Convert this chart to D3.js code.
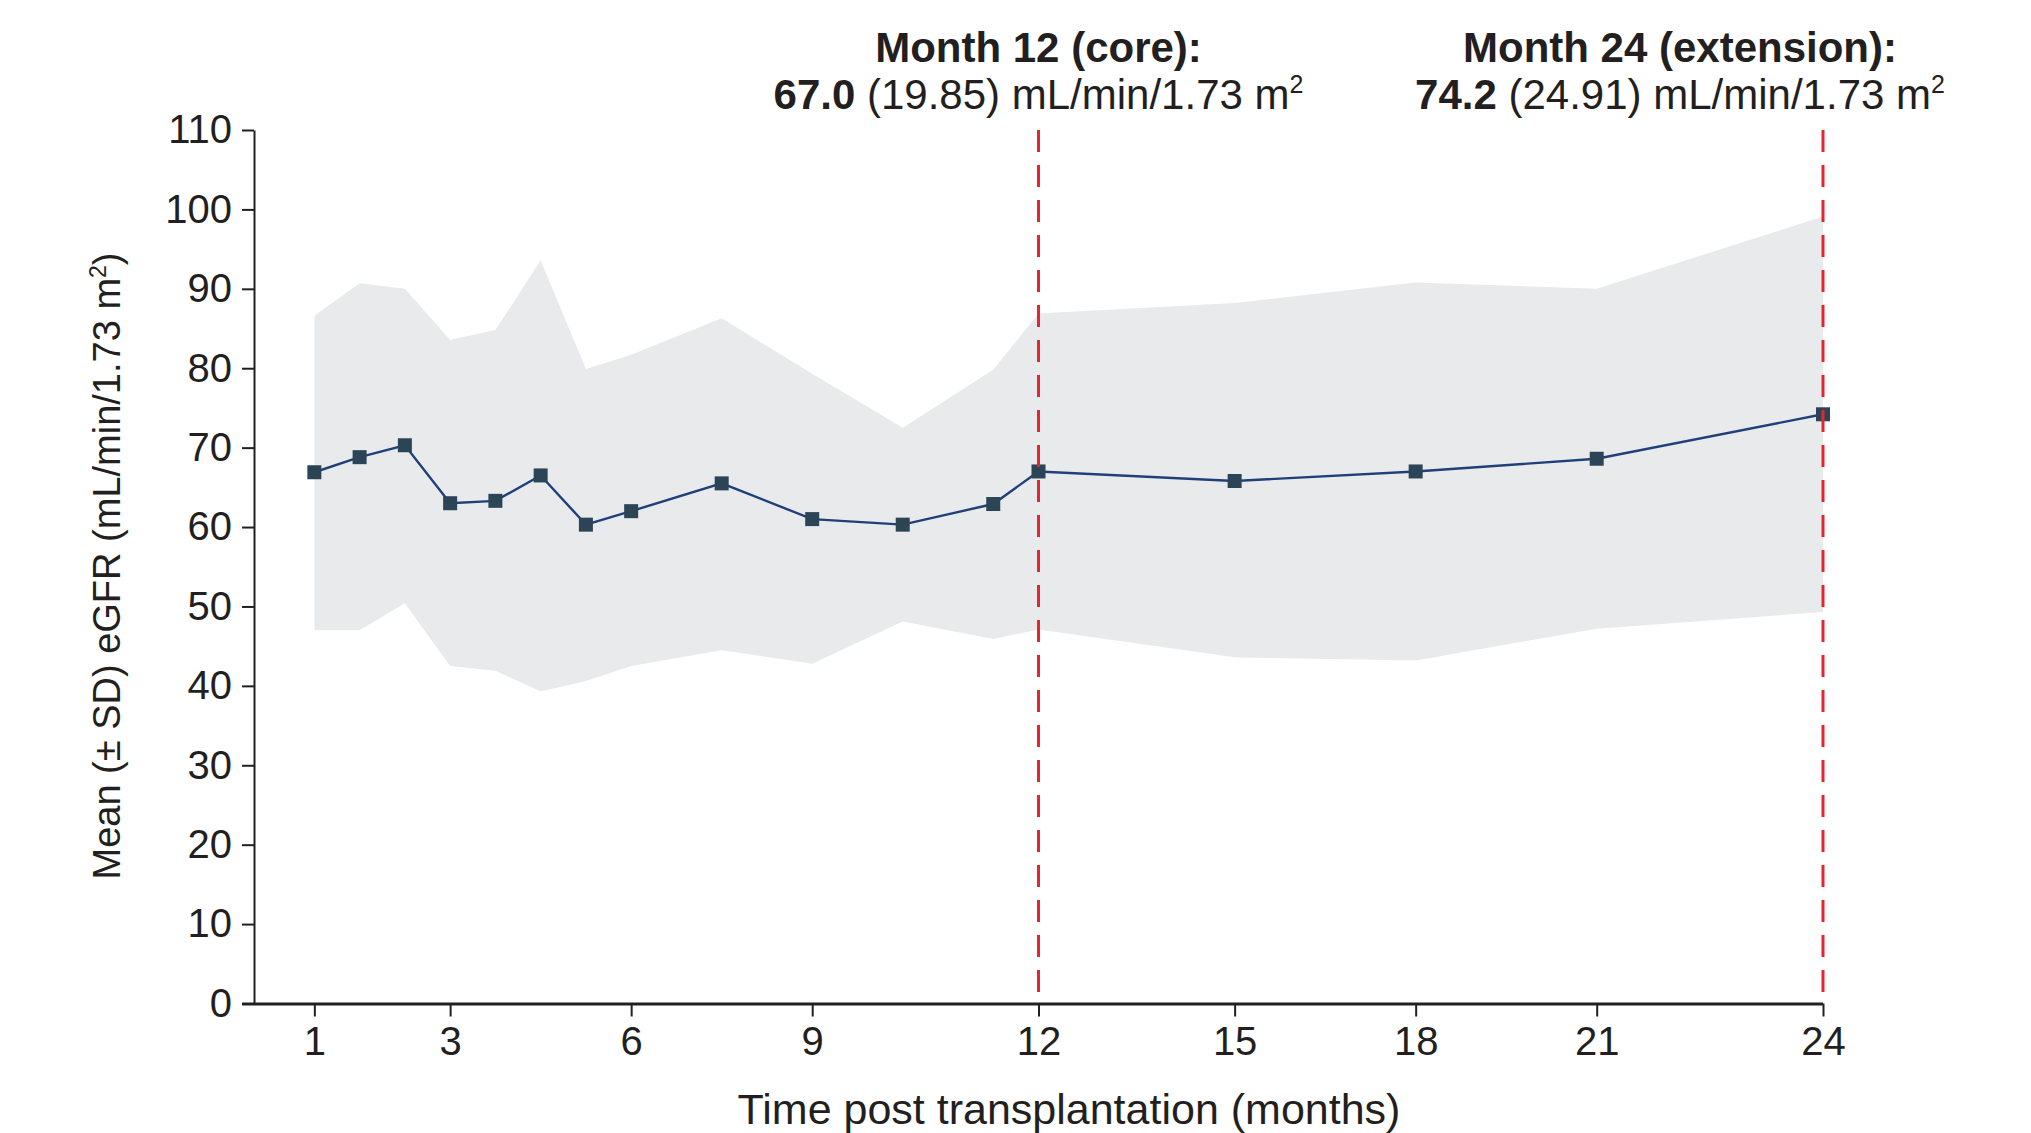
<!DOCTYPE html>
<html>
<head>
<meta charset="utf-8">
<script src="https://cdn.jsdelivr.net/npm/d3@7"></script>
<style>
  body { margin: 0; background: #fff; }
  text { font-family: "Liberation Sans", Arial, sans-serif; fill: #231f20; }
</style>
</head>
<body>
<div class="container"></div>
<script>
// Visit times in weeks post transplantation
const weeks = [4, 7, 10, 13, 16, 19, 22, 25, 31, 37, 43, 49, 52, 65, 77, 89, 104]
const meanEgfr = [66.9, 68.8, 70.3, 63.0, 63.3, 66.5, 60.3, 62.0, 65.5, 61.0, 60.3, 62.9, 67.0, 65.8, 67.0, 68.6, 74.2]
const upperSd = [86.6, 90.7, 90.0, 83.6, 84.8, 93.6, 79.9, 81.7, 86.3, 79.3, 72.5, 79.8, 86.9, 88.2, 90.8, 90.0, 99.1]
const lowerSd = [47.0, 47.0, 50.4, 42.5, 41.9, 39.3, 40.6, 42.5, 44.5, 42.8, 48.1, 45.9, 47.1, 43.6, 43.2, 47.2, 49.3]

// x ticks: week position and month label
const tickWeeks = [4, 13, 25, 37, 52, 65, 77, 89, 104]
const tickMonths = ["1", "3", "6", "9", "12", "15", "18", "21", "24"]
const yTicks = [0, 10, 20, 30, 40, 50, 60, 70, 80, 90, 100, 110]

// reference lines + annotations
const refWeeks = [52, 104]
const annoTitles = ["Month 12 (core):", "Month 24 (extension):"]
const annoMeans = ["67.0", "74.2"]
const annoSds = ["(19.85)", "(24.91)"]

const data = weeks.map((w, i) => ({week: w, mean: meanEgfr[i], hi: upperSd[i], lo: lowerSd[i]}))

let outerWidth = 2031
let outerHeight = 1133

const svg = d3.select(".container")
    .append("svg")
    .attr("width", outerWidth)
    .attr("height", outerHeight)

const x = d3.scaleLinear()
    .domain([0, 104])
    .range([254, 1823])

const y = d3.scaleLinear()
    .domain([0, 110])
    .range([1003.5, 130])

// SD band
const band = d3.area()
    .x(d => x(d.week))
    .y0(d => y(d.lo))
    .y1(d => y(d.hi))

svg.append("path")
    .datum(data)
    .attr("d", band)
    .attr("fill", "#e9eaec")

// mean line
const line = d3.line()
    .x(d => x(d.week))
    .y(d => y(d.mean))

svg.append("path")
    .datum(data)
    .attr("d", line)
    .attr("fill", "none")
    .attr("stroke", "#20407a")
    .attr("stroke-width", 2.4)

const size = 14
svg.selectAll("rect.marker")
    .data(data)
    .join("rect")
    .attr("class", "marker")
    .attr("x", d => x(d.week) - size / 2)
    .attr("y", d => y(d.mean) - size / 2)
    .attr("width", size)
    .attr("height", size)
    .attr("fill", "#2b4556")

// Axes
const yAxis = svg.append("g")
    .attr("transform", `translate(${x(0)},0)`)
    .call(d3.axisLeft(y).tickValues(yTicks).tickSize(12).tickPadding(10).tickSizeOuter(0))

yAxis.select(".domain").attr("stroke", "#231f20").attr("stroke-width", 2)
yAxis.selectAll(".tick line").attr("stroke", "#231f20").attr("stroke-width", 2)
yAxis.selectAll(".tick text")
    .attr("font-size", 40)
    .attr("font-family", "Liberation Sans, Arial, sans-serif")
    .attr("fill", "#231f20")

const xAxis = svg.append("g")
    .attr("transform", `translate(0,${y(0)})`)
    .call(d3.axisBottom(x).tickValues(tickWeeks).tickFormat((d, i) => tickMonths[i])
        .tickSize(13).tickPadding(10).tickSizeOuter(0))

xAxis.select(".domain").attr("stroke", "#231f20").attr("stroke-width", 3.2)
    .attr("d", `M${x(0) - 12},0.5H${x(104)}`)
xAxis.selectAll(".tick line").attr("stroke", "#231f20").attr("stroke-width", 2)
xAxis.selectAll(".tick text")
    .attr("font-size", 40)
    .attr("font-family", "Liberation Sans, Arial, sans-serif")
    .attr("fill", "#231f20")

// Dashed reference lines
svg.selectAll("line.ref")
    .data(refWeeks)
    .join("line")
    .attr("class", "ref")
    .attr("x1", d => x(d))
    .attr("x2", d => x(d))
    .attr("y1", y(110))
    .attr("y2", y(0))
    .attr("stroke", "#e3262f")
    .attr("stroke-width", 3)
    .attr("stroke-dasharray", "22,13")

// Annotations above the reference lines
const annoX = [x(52), 1680]
annoTitles.forEach((t, i) => {
    svg.append("text")
        .attr("x", annoX[i])
        .attr("y", 62)
        .attr("text-anchor", "middle")
        .attr("font-size", 42)
        .attr("font-weight", "bold")
        .text(t)

    const t2 = svg.append("text")
        .attr("x", annoX[i])
        .attr("y", 109)
        .attr("text-anchor", "middle")
        .attr("font-size", 42)
    t2.append("tspan").attr("font-weight", "bold").text(annoMeans[i])
    t2.append("tspan").text(" " + annoSds[i] + " mL/min/1.73 m")
    t2.append("tspan").attr("font-size", 25).attr("dy", -16).text("2")
})

// Axis titles
svg.append("text")
    .attr("x", 1069)
    .attr("y", 1124)
    .attr("text-anchor", "middle")
    .attr("font-size", 43)
    .text("Time post transplantation (months)")

const yTitle = svg.append("text")
    .attr("transform", "translate(120,566) rotate(-90)")
    .attr("text-anchor", "middle")
    .attr("font-size", 38)
yTitle.append("tspan").text("Mean (± SD) eGFR (mL/min/1.73 m")
yTitle.append("tspan").attr("font-size", 23).attr("dy", -14).text("2")
yTitle.append("tspan").attr("dy", 14).text(")")
</script>
</body>
</html>
